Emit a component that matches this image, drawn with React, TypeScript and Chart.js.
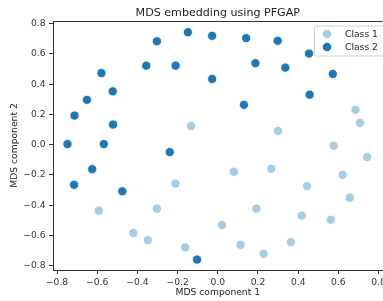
import React, { useEffect, useRef } from "react";
import { Chart, registerables } from "chart.js";
Chart.register(...registerables);

const class1X = [0.685, 0.707, -0.133, 0.300, 0.577, 0.743, 0.080, 0.266, 0.621, -0.211, 0.444, 0.657, -0.592, -0.303, 0.192, 0.418, 0.562, 0.021, -0.420, -0.348, 0.364, -0.162, 0.113, 0.228];
const class1Y = [0.230, 0.144, 0.124, 0.091, -0.007, -0.082, -0.179, -0.159, -0.199, -0.257, -0.274, -0.350, -0.436, -0.423, -0.423, -0.469, -0.496, -0.531, -0.584, -0.631, -0.644, -0.679, -0.662, -0.721];
const class2X = [-0.149, -0.028, 0.141, 0.298, -0.303, 0.454, -0.356, -0.210, 0.187, 0.336, -0.579, 0.572, -0.028, -0.523, -0.651, 0.457, 0.130, -0.713, -0.521, -0.748, -0.567, -0.239, -0.625, -0.715, -0.475, -0.103];
const class2Y = [0.743, 0.719, 0.704, 0.686, 0.683, 0.602, 0.522, 0.522, 0.538, 0.509, 0.473, 0.467, 0.434, 0.352, 0.296, 0.330, 0.263, 0.192, 0.133, 0.004, 0.004, -0.049, -0.162, -0.265, -0.308, -0.759];
const seriesNames = ["Class 1", "Class 2"];
const seriesColors = ["#a6cee3", "#1f78b4"];
const titleText = "MDS embedding using PFGAP";
const xTitle = "MDS component 1";
const yTitle = "MDS component 2";

const FONT = "'DejaVu Sans', sans-serif";
const FS = 9.2;
const fmt = (v: number) => v.toFixed(1).replace("-", "\u2212");

const framePlugin = {
  id: "frame",
  afterDraw(chart: any) {
    const { ctx, chartArea } = chart;
    const { left, right, top } = chartArea;
    ctx.save();
    ctx.strokeStyle = "#333";
    ctx.lineWidth = 1;
    ctx.beginPath();
    ctx.moveTo(left, top + 0.5);
    ctx.lineTo(right, top + 0.5);
    ctx.stroke();
    // title
    ctx.fillStyle = "#222";
    ctx.font = `11.1px ${FONT}`;
    ctx.textAlign = "center";
    ctx.textBaseline = "middle";
    ctx.fillText(titleText, (left + right) / 2, 13);
    // legend
    const bx = 314;
    const by = top + 4.5;
    const bw = 80;
    const bh = 30;
    ctx.fillStyle = "rgba(255,255,255,0.85)";
    ctx.strokeStyle = "#d0d0d0";
    ctx.beginPath();
    (ctx as any).roundRect(bx + 0.5, by + 0.5, bw, bh, 2);
    ctx.fill();
    ctx.stroke();
    ctx.font = `${FS}px ${FONT}`;
    ctx.textAlign = "left";
    seriesNames.forEach((name, i) => {
      const cy = by + 8.5 + i * 13;
      ctx.beginPath();
      ctx.arc(bx + 13, cy, 4.3, 0, Math.PI * 2);
      ctx.fillStyle = seriesColors[i];
      ctx.fill();
      ctx.fillStyle = "#222";
      ctx.fillText(name, bx + 31, cy + 0.5);
    });
    ctx.restore();
  },
};

export default function App() {
  const ref = useRef<HTMLCanvasElement>(null);
  useEffect(() => {
    if (!ref.current) return;
    const toPts = (xs: number[], ys: number[]) => xs.map((x, i) => ({ x, y: ys[i] }));
    const chart = new Chart(ref.current, {
      type: "scatter",
      data: {
        datasets: [
          { label: seriesNames[0], data: toPts(class1X, class1Y), backgroundColor: seriesColors[0], borderColor: "#fff", borderWidth: 0.8, pointRadius: 4.6 },
          { label: seriesNames[1], data: toPts(class2X, class2Y), backgroundColor: seriesColors[1], borderColor: "#fff", borderWidth: 0.8, pointRadius: 4.6 },
        ],
      },
      options: {
        responsive: false,
        animation: false,
        layout: { padding: { top: 21, left: 0, right: 0, bottom: 0 } },
        plugins: { legend: { display: false }, title: { display: false }, tooltip: { enabled: false } },
        scales: {
          x: {
            type: "linear",
            min: -0.82,
            max: 0.82,
            grid: { drawOnChartArea: false, drawTicks: true, tickLength: 4, color: "#333" },
            border: { display: true, color: "#333", width: 1 },
            ticks: { stepSize: 0.2, includeBounds: false, color: "#333", font: { family: FONT, size: FS }, padding: 3, maxRotation: 0, callback: (v: any) => fmt(Number(v)) },
            title: { display: true, text: xTitle, color: "#222", font: { family: FONT, size: FS }, padding: { top: 0, bottom: 2.5 } },
            afterFit: (s: any) => { s.height = 31; s.paddingLeft = 0; s.paddingRight = 0; },
          },
          y: {
            type: "linear",
            min: -0.828,
            max: 0.817,
            grid: { drawOnChartArea: false, drawTicks: true, tickLength: 4, color: "#333" },
            border: { display: true, color: "#333", width: 1 },
            ticks: { stepSize: 0.2, includeBounds: false, color: "#333", font: { family: FONT, size: FS }, padding: 3.5, callback: (v: any) => fmt(Number(v)) },
            title: { display: true, text: yTitle, color: "#222", font: { family: FONT, size: FS }, padding: { top: 9.5, bottom: 0 } },
            afterFit: (s: any) => { s.width = 53; s.paddingTop = 0; s.paddingBottom = 0; },
          },
        },
      },
      plugins: [framePlugin],
    });
    return () => chart.destroy();
  }, []);
  return (
    <div style={{ position: "fixed", left: 0, top: 0, width: 383, height: 301, overflow: "hidden", background: "#fff" }}>
      <canvas ref={ref} width={388} height={301} style={{ display: "block" }} />
    </div>
  );
}
